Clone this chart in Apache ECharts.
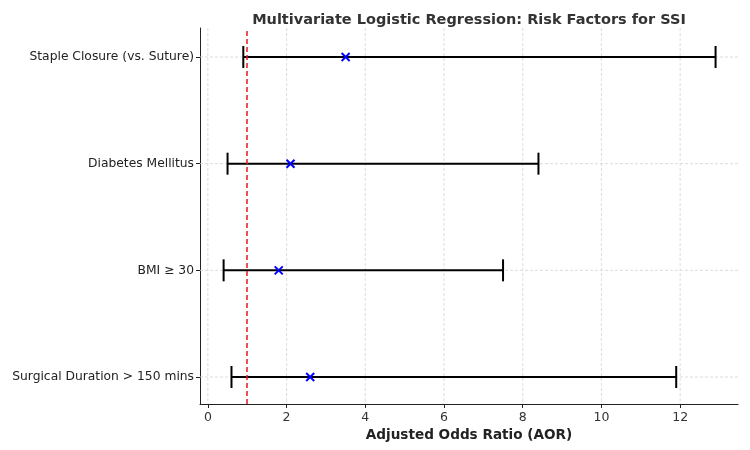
<!DOCTYPE html>
<html><head><meta charset="utf-8">
<script src="https://cdn.jsdelivr.net/npm/echarts@6/dist/echarts.min.js"></script>
<style>html,body{margin:0;padding:0;background:#fff}#c{width:750px;height:450px}</style>
</head><body><div id="c"></div>
<script>
var factors = ["Surgical Duration > 150 mins", "BMI \u2265 30", "Diabetes Mellitus", "Staple Closure (vs. Suture)"];
var aor = [2.6, 1.8, 2.1, 3.5];
var lower = [0.6, 0.4, 0.5, 0.9];
var upper = [11.9, 7.5, 8.4, 12.9];
var xTicks = [0, 2, 4, 6, 8, 10, 12];
var refLine = 1;

var data = factors.map(function(f, i){ return [i, aor[i], lower[i], upper[i]]; });
var chart = echarts.init(document.getElementById('c'));
var F = 'DejaVu Sans';
chart.setOption({
  animation: false,
  title: { text: 'Multivariate Logistic Regression: Risk Factors for SSI', left: 464, textAlign: 'center', top: 8,
    textStyle: { fontFamily: F, fontSize: 14.5, fontWeight: 'bold', color: '#333' } },
  grid: { left: 200, right: 12, top: 28, bottom: 46 },
  xAxis: { type: 'value', min: -0.2, max: 13.47, interval: 2,
    name: 'Adjusted Odds Ratio (AOR)', nameLocation: 'middle', nameGap: 24,
    nameTextStyle: { fontFamily: F, fontSize: 13.6, fontWeight: 'bold', color: '#222' },
    axisLine: { show: true, onZero: false, lineStyle: { color: '#222', width: 1 } },
    axisTick: { show: true, customValues: xTicks, length: 4, lineStyle: { color: '#222' } },
    axisLabel: { customValues: xTicks, fontFamily: F, fontSize: 12.5, color: '#333', margin: 7 },
    splitLine: { show: false } },
  yAxis: { type: 'value', min: -0.253, max: 3.272,
    axisLine: { show: true, onZero: false, lineStyle: { color: '#222', width: 1 } },
    axisTick: { show: true, customValues: [0,1,2,3], length: 4, lineStyle: { color: '#222' } },
    axisLabel: { customValues: [0,1,2,3], fontFamily: F, fontSize: 12.3, color: '#222', margin: 6,
      formatter: function(v){ return factors[Math.round(v)]; } },
    splitLine: { show: false } },
  series: [
    { type: 'custom', silent: true, z: 1,
      data: xTicks.map(function(t){ return [t]; }),
      renderItem: function(params, api){
        var cs = params.coordSys;
        var x = api.coord([api.value(0), 0])[0];
        return { type: 'line', shape: { x1: x, y1: cs.y, x2: x, y2: cs.y + cs.height },
          style: { stroke: '#d3d3d3', lineWidth: 0.8, lineDash: [3, 2] } };
      } },
    { type: 'custom', silent: true, z: 1,
      data: [0,1,2,3].map(function(t){ return [t]; }),
      renderItem: function(params, api){
        var cs = params.coordSys;
        var y = api.coord([0, api.value(0)])[1];
        return { type: 'line', shape: { x1: cs.x, y1: y, x2: cs.x + cs.width, y2: y },
          style: { stroke: '#d3d3d3', lineWidth: 0.8, lineDash: [3, 2] } };
      } },
    { type: 'custom', z: 3,
      data: data,
      renderItem: function(params, api){
        var i = api.value(0);
        var p = api.coord([api.value(1), i]);
        var l = api.coord([api.value(2), i]);
        var u = api.coord([api.value(3), i]);
        var cap = 11, s = 4;
        return { type: 'group', children: [
          { type: 'line', shape: { x1: l[0], y1: l[1], x2: u[0], y2: u[1] }, style: { stroke: '#000', lineWidth: 2 } },
          { type: 'line', shape: { x1: l[0], y1: l[1]-cap, x2: l[0], y2: l[1]+cap }, style: { stroke: '#000', lineWidth: 2 } },
          { type: 'line', shape: { x1: u[0], y1: u[1]-cap, x2: u[0], y2: u[1]+cap }, style: { stroke: '#000', lineWidth: 2 } },
          { type: 'line', z2: 5, shape: { x1: p[0]-s, y1: p[1]-s, x2: p[0]+s, y2: p[1]+s }, style: { stroke: '#0000ff', lineWidth: 2 } },
          { type: 'line', z2: 5, shape: { x1: p[0]-s, y1: p[1]+s, x2: p[0]+s, y2: p[1]-s }, style: { stroke: '#0000ff', lineWidth: 2 } }
        ] };
      },
      markLine: { silent: true, symbol: 'none', label: { show: false }, z: 4,
        lineStyle: { color: '#e31a1c', type: [5, 3], width: 1.5 },
        data: [{ xAxis: refLine }] } }
  ]
});
</script></body></html>
